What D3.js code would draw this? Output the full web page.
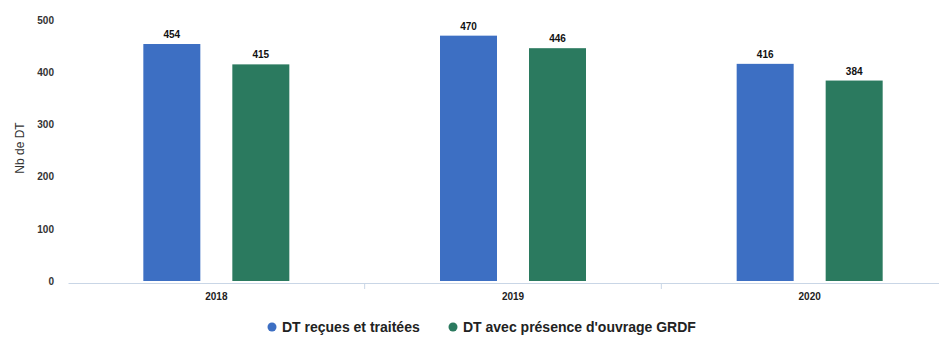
<!DOCTYPE html>
<html>
<head>
<meta charset="utf-8">
<script src="https://cdn.jsdelivr.net/npm/d3@7/dist/d3.min.js"></script>
<style>
  html, body { margin: 0; padding: 0; background: #fff; }
  svg { display: block; font-family: "Liberation Sans", Arial, sans-serif; }
</style>
</head>
<body>
<svg id="chart" width="939" height="342"></svg>
<script>
// Nombre de DT par année
const years = ["2018", "2019", "2020"];
const seriesNames = ["DT reçues et traitées", "DT avec présence d'ouvrage GRDF"];
const recues = [454, 470, 416];
const avecOuvrage = [415, 446, 384];
const yTicks = [0, 100, 200, 300, 400, 500];
const colors = ["#3d6fc3", "#2b7a5f"];

const svg = d3.select("#chart");
const x0 = d3.scaleBand().domain(years).range([68, 958]).paddingInner(0).paddingOuter(0);
const y = d3.scaleLinear().domain([0, 500]).range([281, 20]);

const rows = years.map((yr, i) => ({ year: yr, values: [recues[i], avecOuvrage[i]] }));
const barW = 57, gap = 32;

// Y axis labels
const yAxis = d3.axisLeft(y).tickValues(yTicks).tickSize(0).tickPadding(0);
const gy = svg.append("g").attr("transform", "translate(54,0)").call(yAxis);
gy.select(".domain").remove();
gy.selectAll("text").attr("font-size", 10).attr("fill", "#333").attr("font-weight", "bold");

// Y title
svg.append("text")
  .attr("transform", "translate(24,148) rotate(-90)")
  .attr("text-anchor", "middle")
  .attr("font-size", 12).attr("fill", "#333")
  .text("Nb de DT");

// Baseline and category separators
const xAxis = d3.axisBottom(x0).tickSize(0).tickPadding(0).tickFormat("");
const gx = svg.append("g").attr("transform", `translate(0,${y(0) + 2})`).call(xAxis);
gx.select(".domain").attr("stroke", "#c9d6e6").attr("stroke-width", 1);
gx.selectAll(".tick").remove();
[1, 2].forEach(i => {
  const xx = x0.range()[0] + x0.step() * i;
  svg.append("line").attr("x1", xx).attr("x2", xx)
    .attr("y1", y(0) + 2).attr("y2", y(0) + 8)
    .attr("stroke", "#c9d6e6");
});

// Category labels
svg.selectAll("text.cat").data(years).join("text")
  .attr("class", "cat")
  .attr("x", d => x0(d) + x0.bandwidth() / 2)
  .attr("y", 300)
  .attr("text-anchor", "middle")
  .attr("font-size", 10).attr("font-weight", "bold").attr("fill", "#222")
  .text(d => d);

// Bars
const groups = svg.selectAll("g.grp").data(rows).join("g")
  .attr("class", "grp")
  .attr("transform", d => `translate(${x0(d.year) + x0.bandwidth() / 2},0)`);

groups.selectAll("rect").data(d => d.values).join("rect")
  .attr("x", (d, i) => i === 0 ? -(gap / 2) - barW : gap / 2)
  .attr("y", d => y(d))
  .attr("width", barW)
  .attr("height", d => y(0) - y(d))
  .attr("fill", (d, i) => colors[i]);

groups.selectAll("text").data(d => d.values).join("text")
  .attr("x", (d, i) => (i === 0 ? -(gap / 2) - barW : gap / 2) + barW / 2)
  .attr("y", d => y(d) - 6)
  .attr("text-anchor", "middle")
  .attr("font-size", 10).attr("font-weight", "bold").attr("fill", "#111")
  .text(d => d);

// Legend
const legendX = [272, 453];
seriesNames.forEach((name, i) => {
  svg.append("circle").attr("cx", legendX[i]).attr("cy", 327).attr("r", 4.5).attr("fill", colors[i]);
  svg.append("text").attr("x", legendX[i] + 10).attr("y", 332)
    .attr("font-size", 14).attr("font-weight", "bold").attr("fill", "#222")
    .text(name);
});
</script>
</body>
</html>
